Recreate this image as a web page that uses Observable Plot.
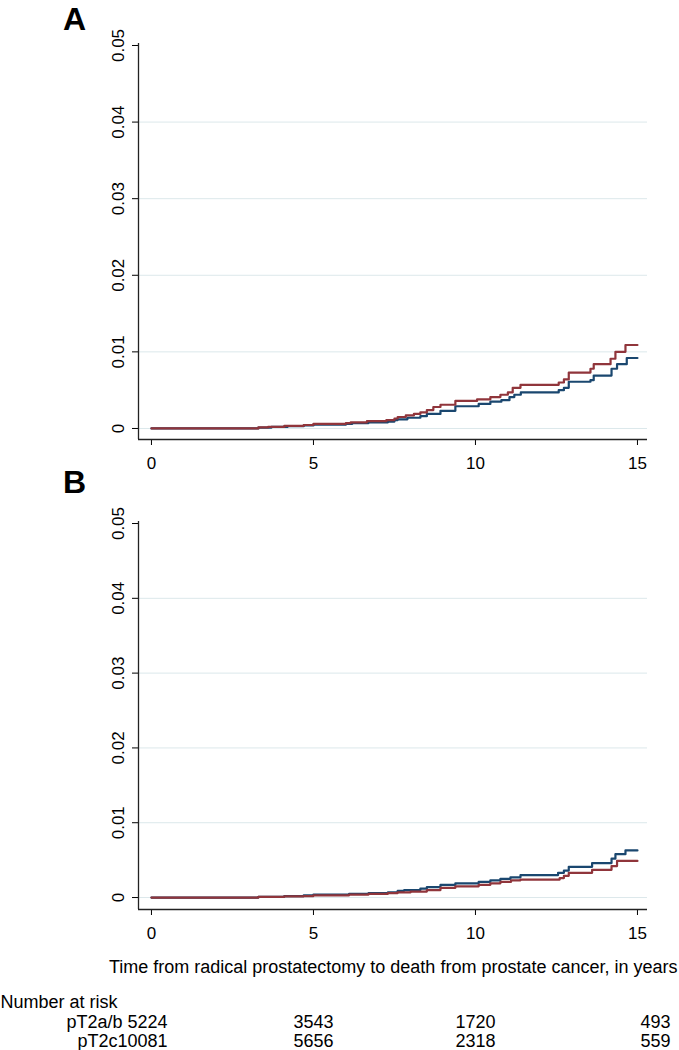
<!DOCTYPE html>
<html><head><meta charset="utf-8">
<script src="https://cdn.jsdelivr.net/npm/d3@7"></script>
<script src="https://cdn.jsdelivr.net/npm/@observablehq/plot@0.6"></script>
<style>
body{margin:0;background:#fff;font-family:"Liberation Sans",Arial,sans-serif;}
#wrap{position:relative;width:679px;height:1050px;overflow:hidden;background:#fff;}
.panel{position:absolute;left:0;}
.letter{position:absolute;font:bold 32px "Liberation Sans",Arial,sans-serif;line-height:1;color:#000;}
</style></head><body><div id="wrap"></div>
<script>
// ---- data ----
const xTicks = [0, 5, 10, 15];
const yTicks = [0, 0.01, 0.02, 0.03, 0.04, 0.05];
const yTickLabels = ["0", "0.01", "0.02", "0.03", "0.04", "0.05"];
const gridValues = [0, 0.01, 0.02, 0.03, 0.04];
const seriesNames = ["pT2a/b", "pT2c"];
const seriesColors = ["#1a476f", "#90353b"];
const panelLetters = ["A", "B"];
const xTitle = "Time from radical prostatectomy to death from prostate cancer, in years";
const riskHeader = "Number at risk";
const rowLabels = ["pT2a/b 5224", "pT2c10081"];
const riskTimes = [5, 10, 15];
const riskAB = [3543, 1720, 493];
const riskC = [5656, 2318, 559];

// Panel A
const tA_ab = [0,3.3,3.7,4.2,4.7,5.0,6.0,6.2,6.7,7.3,7.5,7.6,7.9,8.3,8.5,8.92,9.38,10.1,10.46,10.8,11.05,11.2,11.4,12.57,12.73,12.88,13.55,13.65,14.2,14.37,14.67,15.0];
const vA_ab = [0,0.0001,0.0002,0.0003,0.0004,0.0005,0.0006,0.0007,0.0008,0.0009,0.0011,0.0012,0.0014,0.0016,0.0019,0.0023,0.0029,0.0032,0.0035,0.0037,0.0041,0.0044,0.0047,0.0050,0.0053,0.0061,0.0063,0.0069,0.0078,0.0084,0.0092,0.0092];
const tA_c = [0,3.3,3.6,4.1,4.7,5.0,6.0,6.15,6.65,7.25,7.5,7.6,7.85,8.1,8.3,8.5,8.7,8.92,9.38,10.05,10.46,10.77,11.0,11.15,11.39,12.57,12.73,12.88,13.55,13.65,14.17,14.32,14.63,15.0];
const vA_c = [0,0.00013,0.0002,0.00035,0.00045,0.0006,0.0007,0.0008,0.00095,0.0011,0.0013,0.0015,0.0017,0.0019,0.0021,0.0024,0.0028,0.0031,0.0036,0.0038,0.0041,0.0044,0.0047,0.0053,0.0057,0.0060,0.0064,0.0073,0.0078,0.0084,0.0091,0.0100,0.0109,0.0109];
// Panel B
const tB_ab = [0,3.3,4.1,4.7,5.0,6.1,6.7,7.3,7.6,7.8,8.3,8.5,8.92,9.38,10.1,10.46,10.77,11.08,11.39,12.55,12.73,12.88,13.6,14.2,14.32,14.63,15.0];
const vB_ab = [0,0.0001,0.0002,0.0003,0.0004,0.0005,0.0006,0.0007,0.0009,0.0010,0.0012,0.0014,0.0017,0.0019,0.0021,0.0023,0.0025,0.0027,0.0030,0.0033,0.0036,0.0041,0.0046,0.0052,0.0058,0.0063,0.0063];
const tB_c = [0,3.3,4.1,4.7,5.0,6.1,6.7,7.3,7.6,8.0,8.5,8.92,9.38,10.1,10.46,10.77,11.1,11.39,12.6,12.73,12.88,13.6,14.2,14.37,15.0];
const vB_c = [0,0.0001,0.00015,0.0002,0.0003,0.0004,0.0005,0.0006,0.0007,0.0008,0.0010,0.0013,0.0015,0.0017,0.0019,0.0021,0.0023,0.0024,0.0026,0.0029,0.0033,0.0037,0.0042,0.0049,0.0049];

// ---- build ----
const FONT = "'Liberation Sans', Arial, sans-serif";
const xDomain = [-0.4, 15.31];
const W = 679, ML = 138, MR = 32;

function rows(t, v, g) { return t.map((d, i) => ({t: d, v: v[i], g})); }

function panel(series, yDomain, height, mTop, mBottom) {
  return Plot.plot({
    width: W, height, marginTop: mTop, marginBottom: mBottom, marginLeft: ML, marginRight: MR,
    style: {fontFamily: FONT, fontSize: "17px", color: "#000", background: "transparent", overflow: "visible"},
    x: {domain: xDomain, ticks: xTicks, tickSize: 6, tickPadding: 11, label: null, tickFormat: d => String(d)},
    y: {domain: yDomain, ticks: yTicks, tickSize: 6, tickFormat: () => "", label: null},
    color: {domain: seriesNames, range: seriesColors},
    marks: [
      Plot.ruleY(gridValues, {stroke: "#dce8eb", strokeWidth: 1}),
      Plot.line(series, {x: "t", y: "v", z: "g", stroke: "g", curve: "step-after", strokeWidth: 2.2}),
      Plot.ruleX([xDomain[0]], {stroke: "#222", strokeWidth: 1.3}),
      Plot.ruleY([yDomain[0]], {stroke: "#222", strokeWidth: 1.3}),
      Plot.text(yTicks, {y: d => d, text: (d, i) => yTickLabels[i], frameAnchor: "left", rotate: -90, dx: -20,
        textAnchor: "middle", lineAnchor: "middle", fontSize: 17, fill: "#000"})
    ]
  });
}

const wrap = document.getElementById("wrap");

const seriesA = [...rows(tA_ab, vA_ab, seriesNames[0]), ...rows(tA_c, vA_c, seriesNames[1])];
const seriesB = [...rows(tB_ab, vB_ab, seriesNames[0]), ...rows(tB_c, vB_c, seriesNames[1])];

const pA = panel(seriesA, [-0.00144, 0.05026], 480, 43, 41);
pA.classList.add("panel"); pA.style.top = "0px";
wrap.appendChild(pA);

const pB = panel(seriesB, [-0.0016, 0.05027], 470, 41, 41);
pB.classList.add("panel"); pB.style.top = "480px";
wrap.appendChild(pB);

const table = Plot.plot({
  width: W, height: 100, marginTop: 0, marginBottom: 0, marginLeft: ML, marginRight: MR,
  style: {fontFamily: FONT, fontSize: "18px", color: "#000", background: "transparent", overflow: "visible"},
  x: {domain: xDomain, axis: null},
  marks: [
    Plot.text([xTitle], {frameAnchor: "top-right", dx: 30, dy: 17, textAnchor: "end", lineAnchor: "middle", fontSize: 18, fill: "#000"}),
    Plot.text([riskHeader], {frameAnchor: "top-left", dx: -ML, dy: 52, textAnchor: "start", lineAnchor: "middle", fontSize: 18, fill: "#000"}),
    Plot.text([rowLabels[0]], {frameAnchor: "top-left", dx: 29, dy: 72, textAnchor: "end", lineAnchor: "middle", fontSize: 18, fill: "#000"}),
    Plot.text([rowLabels[1]], {frameAnchor: "top-left", dx: 29, dy: 91, textAnchor: "end", lineAnchor: "middle", fontSize: 18, fill: "#000"}),
    Plot.text(riskTimes.slice(0, 2), {x: d => d, text: (d, i) => String(riskAB[i]), frameAnchor: "top", dy: 72, lineAnchor: "middle", fontSize: 18, fill: "#000"}),
    Plot.text(riskTimes.slice(0, 2), {x: d => d, text: (d, i) => String(riskC[i]), frameAnchor: "top", dy: 91, lineAnchor: "middle", fontSize: 18, fill: "#000"}),
    Plot.text(riskTimes.slice(2), {x: d => d, text: () => String(riskAB[2]), frameAnchor: "top", dx: 18, dy: 72, lineAnchor: "middle", fontSize: 18, fill: "#000"}),
    Plot.text(riskTimes.slice(2), {x: d => d, text: () => String(riskC[2]), frameAnchor: "top", dx: 18, dy: 91, lineAnchor: "middle", fontSize: 18, fill: "#000"})
  ]
});
table.classList.add("panel"); table.style.top = "950px";
wrap.appendChild(table);

[[panelLetters[0], 63, 3], [panelLetters[1], 63, 466]].forEach(([txt, l, t]) => {
  const d = document.createElement("div");
  d.className = "letter"; d.textContent = txt;
  d.style.left = l + "px"; d.style.top = t + "px";
  wrap.appendChild(d);
});
</script></body></html>
